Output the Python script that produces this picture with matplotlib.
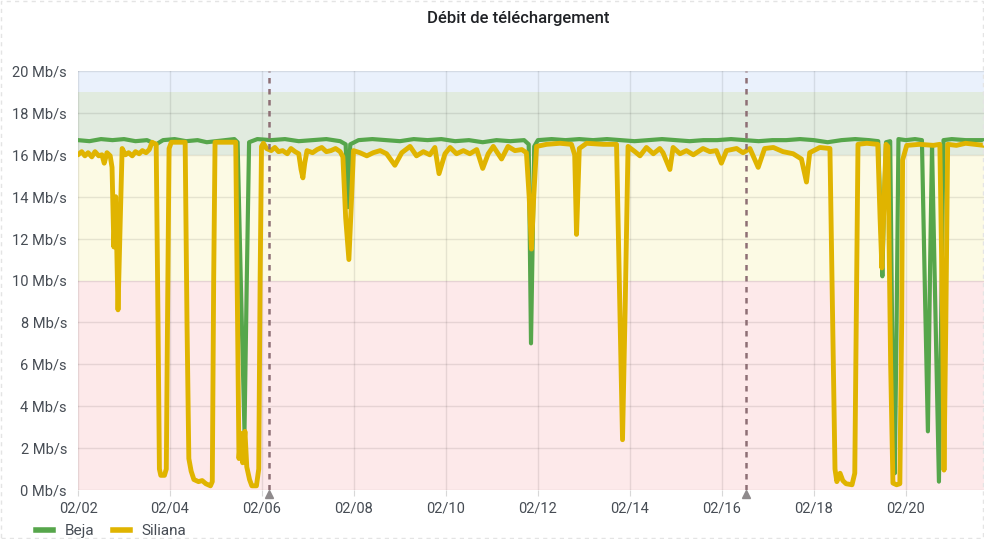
import numpy as np
import pandas as pd
import matplotlib
matplotlib.use("Agg")
import matplotlib.pyplot as plt
import matplotlib.dates as mdates
import matplotlib.transforms as mtransforms
from matplotlib.lines import Line2D
from matplotlib.patches import Rectangle

plt.rcParams['font.family'] = ['Roboto', 'DejaVu Sans']

# Debit de telechargement (Mb/s), temps en jours depuis le 02/02 00:00
start = pd.Timestamp("2024-02-02")

beja_days = [0.0, 0.25, 0.5, 0.75, 1.0, 1.25, 1.5, 1.7, 1.85, 2.1, 2.35, 2.6, 2.8, 3.0,
             3.2, 3.4, 3.47, 3.55, 3.62, 3.67, 3.72, 3.9, 4.2, 4.5, 4.8, 5.1, 5.4, 5.7,
             5.82, 5.87, 5.92, 6.1, 6.4, 6.7, 7.0, 7.3, 7.6, 7.9, 8.2, 8.5, 8.8, 9.1,
             9.4, 9.7, 9.8, 9.85, 9.92, 10.0, 10.3, 10.6, 10.9, 11.2, 11.5, 11.8, 12.1,
             12.4, 12.7, 13.0, 13.3, 13.6, 13.9, 14.2, 14.5, 14.8, 15.1, 15.4, 15.7,
             16.0, 16.3, 16.6, 16.9, 17.2, 17.4, 17.45, 17.49, 17.53, 17.57, 17.66,
             17.71, 17.76, 17.8, 17.84, 18.0, 18.2, 18.35, 18.42, 18.48, 18.53, 18.57,
             18.62, 18.72, 18.78, 18.82, 19.0, 19.3, 19.7]
beja_vals = [16.7, 16.65, 16.75, 16.7, 16.75, 16.65, 16.7, 16.5, 16.7, 16.75, 16.65, 16.7,
             16.6, 16.65, 16.7, 16.75, 16.6, 9.0, 2.8, 10.0, 16.6, 16.75, 16.7, 16.75,
             16.65, 16.7, 16.75, 16.65, 16.5, 13.5, 16.5, 16.7, 16.75, 16.7, 16.65,
             16.75, 16.7, 16.75, 16.65, 16.7, 16.6, 16.7, 16.65, 16.7, 16.5, 7.0, 16.4,
             16.7, 16.75, 16.7, 16.75, 16.7, 16.75, 16.7, 16.65, 16.7, 16.75, 16.7,
             16.65, 16.7, 16.7, 16.75, 16.7, 16.65, 16.7, 16.7, 16.75, 16.7, 16.6, 16.7,
             16.75, 16.7, 16.65, 13.0, 10.2, 14.0, 16.6, 16.65, 6.0, 0.8, 8.0, 16.75,
             16.7, 16.75, 16.7, 9.0, 2.8, 11.0, 16.4, 11.0, 0.4, 10.0, 16.7, 16.75,
             16.7, 16.7]

siliana_days = [0.0, 0.08, 0.15, 0.22, 0.3, 0.37, 0.45, 0.52, 0.57, 0.63, 0.7, 0.74,
                0.78, 0.82, 0.87, 0.92, 0.96, 1.03, 1.1, 1.18, 1.25, 1.33, 1.4, 1.48,
                1.55, 1.61, 1.7, 1.74, 1.77, 1.8, 1.88, 1.92, 1.95, 1.98, 2.03, 2.33,
                2.37, 2.41, 2.46, 2.52, 2.62, 2.7, 2.78, 2.88, 2.92, 2.95, 2.98, 3.43,
                3.47, 3.5, 3.54, 3.58, 3.63, 3.67, 3.73, 3.78, 3.88, 3.93, 3.96, 3.99,
                4.03, 4.1, 4.2, 4.28, 4.36, 4.45, 4.55, 4.63, 4.72, 4.8, 4.85, 4.89,
                4.93, 4.98, 5.1, 5.2, 5.3, 5.4, 5.5, 5.6, 5.7, 5.76, 5.82, 5.89, 5.94,
                5.99, 6.13, 6.28, 6.42, 6.57, 6.71, 6.89, 7.04, 7.22, 7.36, 7.51, 7.65,
                7.76, 7.85, 7.98, 8.09, 8.23, 8.38, 8.52, 8.67, 8.8, 8.92, 9.03, 9.21,
                9.35, 9.5, 9.65, 9.75, 9.81, 9.86, 9.91, 9.97, 10.19, 10.48, 10.73, 10.8,
                10.84, 10.9, 11.06, 11.42, 11.71, 11.78, 11.84, 11.9, 11.96, 12.11,
                12.22, 12.36, 12.51, 12.65, 12.72, 12.87, 12.94, 13.09, 13.23, 13.38,
                13.59, 13.74, 13.88, 13.99, 14.1, 14.32, 14.46, 14.61, 14.79, 14.93,
                15.12, 15.33, 15.55, 15.73, 15.84, 15.91, 16.13, 16.35, 16.41, 16.46,
                16.5, 16.57, 16.63, 16.7, 16.83, 16.89, 16.93, 16.96, 17.15, 17.39,
                17.44, 17.48, 17.53, 17.57, 17.61, 17.67, 17.72, 17.8, 17.87, 17.91,
                17.93, 18.02, 18.3, 18.6, 18.74, 18.8, 18.83, 18.87, 18.91, 19.1,
                19.3, 19.5, 19.7]
siliana_vals = [16.0, 16.15, 15.95, 16.1, 15.9, 16.15, 15.95, 16.0, 15.6, 16.1, 15.95, 15.4,
                11.6, 14.0, 8.6, 13.0, 16.3, 16.0, 16.1, 15.95, 16.15, 16.05, 16.2, 16.1,
                16.25, 16.6, 16.5, 8.0, 1.0, 0.7, 0.7, 1.0, 9.0, 16.3, 16.6, 16.6,
                8.0, 1.5, 0.9, 0.5, 0.4, 0.45, 0.3, 0.2, 0.4, 10.0, 16.6, 16.6,
                8.0, 1.5, 2.7, 1.3, 2.8, 1.1, 0.5, 0.2, 0.2, 1.0, 10.0, 16.4,
                16.55, 16.3, 16.2, 16.35, 16.15, 16.2, 16.05, 16.3, 16.15, 16.05, 15.3, 14.9,
                15.6, 16.2, 16.1, 16.25, 16.35, 16.15, 16.2, 16.3, 16.15, 15.9, 13.0, 11.0, 13.5,
                16.2, 16.1, 15.95, 16.1, 16.2, 16.05, 15.5, 16.1, 16.4, 15.95, 16.15, 16.0,
                16.35, 15.1, 16.05, 16.35, 16.05, 16.2, 16.05, 16.25, 15.35, 16.05, 16.4, 15.8,
                16.4, 16.2, 16.25, 16.1, 14.0, 11.5, 14.0, 16.4, 16.5, 16.55, 16.5, 16.0,
                12.2, 16.3, 16.55, 16.5, 16.5, 9.0, 2.4, 9.0, 16.4, 16.15,
                15.95, 16.35, 16.05, 16.3, 16.1, 15.3, 16.35, 16.05, 16.2, 16.0,
                16.3, 16.15, 16.2, 15.6, 16.2, 16.3, 16.1, 16.3, 15.4, 16.3,
                16.35, 16.15, 16.05, 15.8, 14.7, 16.1, 16.35, 16.3, 8.0, 1.0,
                0.4, 0.8, 0.45, 0.3, 0.25, 0.8, 10.0, 16.5, 16.55, 16.5,
                13.0, 10.6, 14.0, 16.5, 16.4, 6.0, 0.33, 0.25, 0.3, 8.0,
                15.75, 16.45, 16.5, 16.45, 16.5, 8.0, 0.95, 8.0, 16.5, 16.45,
                16.55, 16.5, 16.45]

annotation_days = [4.15, 14.52]
xtick_days = [0, 2, 4, 6, 8, 10, 12, 14, 16, 18]
ytick_vals = [0, 2, 4, 6, 8, 10, 12, 14, 16, 18, 20]

# seuils (couleurs de fond)
bands = [(0, 10, '#fde9ea'), (10, 16, '#fcfae4'), (16, 19, '#e1ebdf'), (19, 20, '#eaf1fc')]


def to_dates(days):
    return start + pd.to_timedelta(np.array(days), unit='D')


fig = plt.figure(figsize=(9.84, 5.39), dpi=100)
ax = fig.add_axes([78 / 984, 49 / 539, 906 / 984, 419 / 539])

for lo, hi, col in bands:
    ax.axhspan(lo, hi, color=col, lw=0, zorder=0)

ax.plot(to_dates(beja_days), beja_vals, color='#56a64b', lw=3.0, zorder=3,
        solid_joinstyle='round', solid_capstyle='round')
ax.plot(to_dates(siliana_days), siliana_vals, color='#e0b400', lw=3.5, zorder=4,
        solid_joinstyle='round', solid_capstyle='round')

# annotations
ann = to_dates(annotation_days)
for d in ann:
    ax.axvline(d, color='#8e6f75', lw=1.8, ls=(0, (2.2, 2.2)), zorder=5)
tri = mtransforms.offset_copy(ax.transData, fig=fig, y=-4, units='dots')
ax.plot(ann, [0, 0], ls='none', marker='^', ms=6, color='#8e8a8c',
        transform=tri, clip_on=False, zorder=6)

ax.set_xlim(start, start + pd.Timedelta(days=19.7))
ax.set_ylim(0, 20)
ax.set_xticks(to_dates(xtick_days))
ax.xaxis.set_major_formatter(mdates.DateFormatter('%m/%d'))
ax.set_yticks(ytick_vals)
ax.set_yticklabels([f"{v} Mb/s" for v in ytick_vals])

ax.grid(True, color='#000000', alpha=0.09, lw=1.0, zorder=1)
ax.set_axisbelow(False)
for s in ax.spines.values():
    s.set_visible(False)
ax.tick_params(axis='both', length=4, color='#d8d8d8', labelcolor='#464c54',
               labelsize=10.5, pad=4)
ax.tick_params(axis='y', length=0, pad=8)

fig.text(518 / 984, 1 - 18 / 539, 'Débit de téléchargement', ha='center', va='center',
         fontsize=12, fontweight='medium', color='#202226')

handles = [Line2D([], [], color='#56a64b', lw=4),
           Line2D([], [], color='#e0b400', lw=4)]
fig.legend(handles, ['Beja', 'Siliana'], loc='center left',
           bbox_to_anchor=(22 / 984, 1 - 531 / 539), ncol=2, frameon=False,
           fontsize=11, labelcolor='#464c54', handlelength=1.1, handletextpad=0.8,
           columnspacing=1.2)

# bordure pointillee du panneau
fig.patches.append(Rectangle((0.001, 0.001), 0.998, 0.997, transform=fig.transFigure,
                             fill=False, ls=(0, (3, 3)), lw=1, ec='#e4e4e4'))

fig.savefig('out.png', dpi=100)
